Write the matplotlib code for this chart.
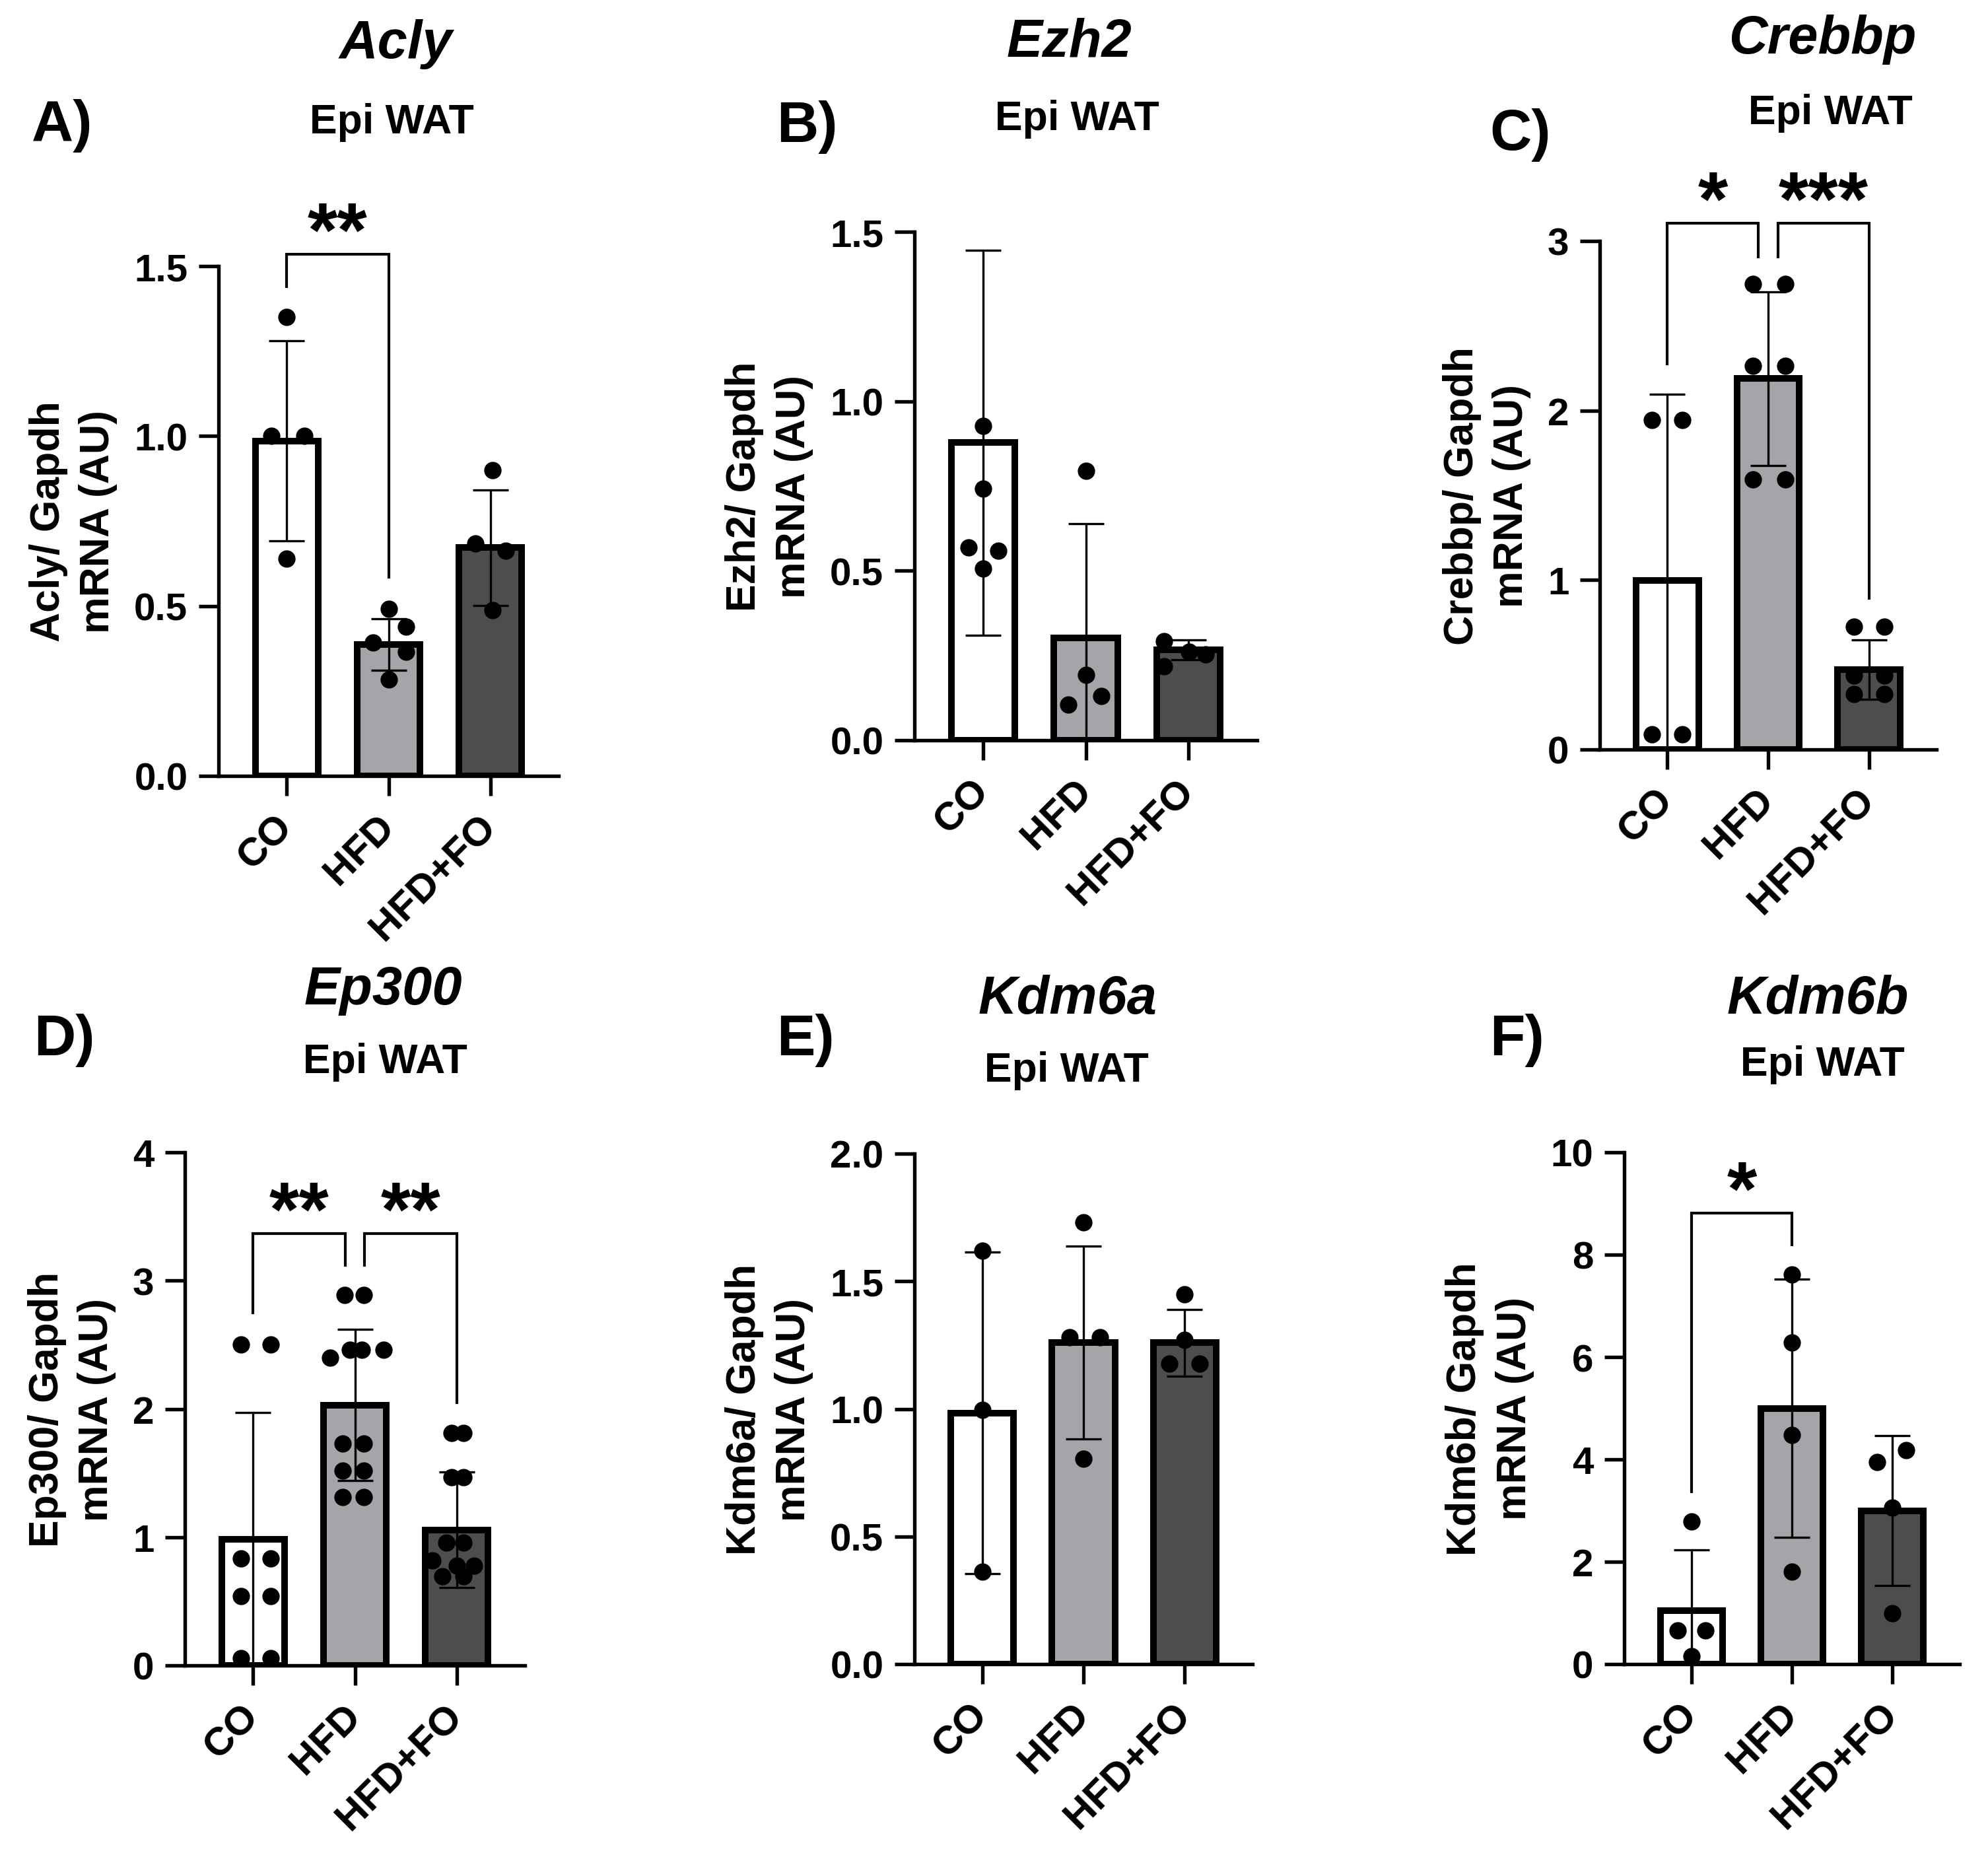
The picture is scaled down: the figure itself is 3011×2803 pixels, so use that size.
import numpy as np
import matplotlib
matplotlib.use('Agg')
import matplotlib.pyplot as plt

plt.rcParams['font.family'] = ['Liberation Sans', 'DejaVu Sans']
plt.rcParams['font.weight'] = 'bold'

W, H = 3011, 2804
DPI = 300

groups = ['CO', 'HFD', 'HFD+FO']
fills = ['white', '#a5a5a9', '#4d4d4d']

# --- Acly (A)
acly_mean = [0.986, 0.387, 0.672]
acly_sd = [0.295, 0.076, 0.17]
acly_pts = [[1.35, 1.00, 1.00, 0.64],
            [0.492, 0.44, 0.392, 0.366, 0.283],
            [0.90, 0.684, 0.663, 0.488]]
acly_jit = [[0, -0.15, 0.17, 0], [0, 0.17, -0.15, 0.17, 0], [0.02, -0.15, 0.15, 0.02]]
acly_sig = [(0, 1, 1.535, 1.44, 0.585, '**')]

# --- Ezh2 (B)
ezh2_mean = [0.878, 0.301, 0.267]
ezh2_sd = [0.568, 0.337, 0.03]
ezh2_pts = [[0.927, 0.743, 0.568, 0.559, 0.507],
            [0.795, 0.192, 0.105, 0.131],
            [0.292, 0.218, 0.262, 0.253]]
ezh2_jit = [[0, 0, -0.14, 0.15, 0], [0, 0, -0.17, 0.15], [-0.24, -0.24, 0.01, 0.17]]
ezh2_sig = []

# --- Crebbp (C)
crebbp_mean = [0.998, 2.188, 0.473]
crebbp_sd = [1.10, 0.513, 0.175]
crebbp_pts = [[1.943, 1.943, 0.088, 0.088],
              [2.748, 2.748, 2.265, 2.265, 1.593, 1.593],
              [0.725, 0.725, 0.438, 0.438, 0.326, 0.326]]
crebbp_jit = [[-0.15, 0.15, -0.15, 0.15],
              [-0.15, 0.17, -0.15, 0.17, -0.15, 0.17],
              [-0.15, 0.15, -0.15, 0.15, -0.15, 0.15]]
crebbp_sig = [(0, 1, 3.105, 2.275, 2.905, '*'),
              (1, 2, 3.105, 2.905, 0.893, '***')]

# --- Ep300 (D)
ep300_mean = [0.983, 2.03, 1.057]
ep300_sd = [0.99, 0.59, 0.45]
ep300_pts = [[2.503, 2.503, 0.834, 0.834, 0.538, 0.538, 0.056, 0.056],
             [2.888, 2.888, 2.40, 2.461, 2.461, 2.461, 1.729, 1.729, 1.52, 1.52, 1.312, 1.312],
             [1.812, 1.812, 1.465, 1.465, 0.955, 0.955, 0.816, 0.779, 0.779, 0.695, 0.695]]
ep300_jit = [[-0.12, 0.17, -0.12, 0.17, -0.12, 0.17, -0.12, 0.17],
             [-0.1, 0.09, -0.24, -0.05, 0.07, 0.28, -0.12, 0.09, -0.12, 0.09, -0.12, 0.09],
             [-0.05, 0.07, -0.05, 0.07, -0.1, 0.07, -0.24, 0.0, 0.17, -0.14, 0.07]]
ep300_sig = [(0, 1, 3.365, 2.75, 3.12, '**'),
             (1, 2, 3.365, 3.12, 2.05, '**')]

# --- Kdm6a (E)
kdm6a_mean = [0.984, 1.259, 1.259]
kdm6a_sd = [0.63, 0.378, 0.13]
kdm6a_pts = [[1.62, 0.995, 0.361],
             [1.73, 1.282, 1.282, 0.804],
             [1.45, 1.27, 1.177, 1.177]]
kdm6a_jit = [[0, 0, 0], [0, -0.14, 0.16, 0], [0, 0, -0.15, 0.15]]
kdm6a_sig = []

# --- Kdm6b (F)
kdm6b_mean = [1.047, 5.0, 3.0]
kdm6b_sd = [1.186, 2.52, 1.47]
kdm6b_pts = [[2.79, 0.663, 0.663, 0.151],
             [7.616, 6.279, 4.477, 1.802],
             [3.953, 4.186, 3.058, 0.988]]
kdm6b_jit = [[0, -0.14, 0.14, 0], [0, 0, 0, 0], [-0.15, 0.14, 0, 0]]
kdm6b_sig = [(0, 1, 8.81, 3.37, 8.2, '*')]

panels = [
    # letter, gene, data, yticks, fmt, axes box px (l, r, t, b), letter xy, gene xy, tissue xy
    ('A)', 'Acly', (acly_mean, acly_sd, acly_pts, acly_jit, acly_sig),
     [0.0, 0.5, 1.0, 1.5], '{:.1f}', (331, 846, 404, 1176), (48, 213), (600, 88), (593, 202)),
    ('B)', 'Ezh2', (ezh2_mean, ezh2_sd, ezh2_pts, ezh2_jit, ezh2_sig),
     [0.0, 0.5, 1.0, 1.5], '{:.1f}', (1385, 1904, 352, 1122), (1176, 215), (1619, 85), (1631, 197)),
    ('C)', 'Crebbp', (crebbp_mean, crebbp_sd, crebbp_pts, crebbp_jit, crebbp_sig),
     [0, 1, 2, 3], '{:.0f}', (2423, 2933, 366, 1136), (2256, 227), (2760, 81), (2772, 188)),
    ('D)', 'Ep300', (ep300_mean, ep300_sd, ep300_pts, ep300_jit, ep300_sig),
     [0, 1, 2, 3, 4], '{:.0f}', (280, 795, 1746, 2523), (51, 1598), (580, 1521), (583, 1625)),
    ('E)', 'Kdm6a', (kdm6a_mean, kdm6a_sd, kdm6a_pts, kdm6a_jit, kdm6a_sig),
     [0.0, 0.5, 1.0, 1.5, 2.0], '{:.1f}', (1385, 1897, 1748, 2521), (1176, 1598), (1617, 1535), (1615, 1638)),
    ('F)', 'Kdm6b', (kdm6b_mean, kdm6b_sd, kdm6b_pts, kdm6b_jit, kdm6b_sig),
     [0, 2, 4, 6, 8, 10], '{:.0f}', (2460, 2968, 1746, 2521), (2256, 1598), (2753, 1535), (2760, 1629)),
]

fig = plt.figure(figsize=(W / DPI, H / DPI), dpi=DPI)
fig.patch.set_facecolor('white')


def fx(px):
    return px / W


def fy(py):
    return 1 - py / H


shared_gap = 0.095

for letter, gene, (mean, sd, pts, jit, sig), yticks, fmt, box, lxy, gxy, txy in panels:
    l, r, t, b = box
    ax = fig.add_axes([fx(l), fy(b), fx(r - l), (b - t) / H])
    x = np.arange(len(groups))
    ax.bar(x, mean, width=0.62, color=fills, edgecolor='black', linewidth=2.4, zorder=2)
    ax.errorbar(x, mean, yerr=sd, fmt='none', ecolor='black', elinewidth=0.8,
                capsize=6.4, capthick=0.8, zorder=3)
    for k in range(len(groups)):
        ax.plot(k + np.array(jit[k]), pts[k], 'o', color='black', ms=5.3,
                mec='black', zorder=4, clip_on=False)

    # significance brackets
    ends = [s[0] for s in sig] + [s[1] for s in sig]
    for i, j, top, yl, yr, lab in sig:
        x1 = i + (shared_gap if ends.count(i) > 1 else 0)
        x2 = j - (shared_gap if ends.count(j) > 1 else 0)
        ax.plot([x1, x1, x2, x2], [yl, top, top, yr], color='black', lw=1.0,
                clip_on=False, solid_joinstyle='miter', zorder=5)
        ax.annotate(lab, xy=((x1 + x2) / 2, top), xytext=(0, -0.5), textcoords='offset points',
                    ha='center', va='baseline', fontsize=28, fontweight='bold',
                    annotation_clip=False)

    ax.set_xlim(-0.67, 2.67)
    ax.set_ylim(0, yticks[-1])
    ax.set_yticks(yticks)
    ax.set_yticklabels([fmt.format(v) for v in yticks])
    ax.set_xticks(x)
    ax.set_xticklabels(groups, rotation=45, ha='right', va='center', rotation_mode='anchor')
    for s in ['top', 'right']:
        ax.spines[s].set_visible(False)
    for s in ['left', 'bottom']:
        ax.spines[s].set_linewidth(1.3)
    ax.tick_params(axis='both', length=7.2, width=1.3, labelsize=14)
    ax.tick_params(axis='x', labelsize=14.5, pad=9)
    ax.tick_params(axis='y', pad=4)
    ax.set_ylabel(gene + '/ Gapdh\nmRNA (AU)', fontsize=15, fontweight='bold',
                  labelpad=6, linespacing=1.35)

    fig.text(fx(lxy[0]), fy(lxy[1]), letter, fontsize=21, fontweight='bold',
             ha='left', va='baseline')
    fig.text(fx(gxy[0]), fy(gxy[1]), gene, fontsize=19.5, fontweight='bold',
             fontstyle='italic', ha='center', va='baseline')
    fig.text(fx(txy[0]), fy(txy[1]), 'Epi WAT', fontsize=15, fontweight='bold',
             ha='center', va='baseline')

fig.savefig('out.png', dpi=DPI, facecolor='white')
